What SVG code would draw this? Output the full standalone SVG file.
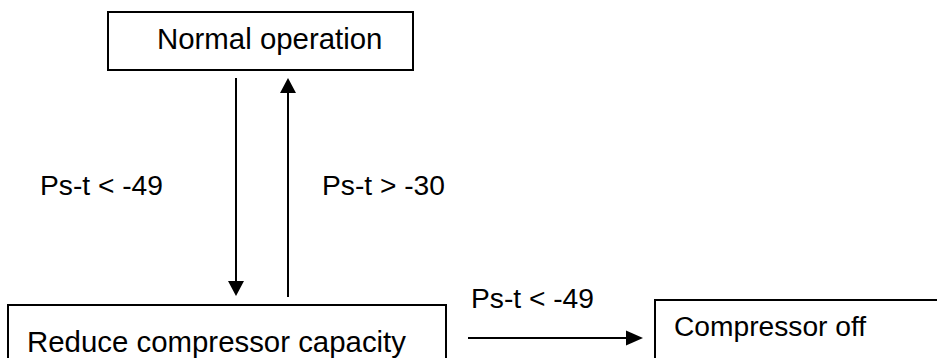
<svg xmlns="http://www.w3.org/2000/svg" width="937" height="358" viewBox="0 0 937 358">
<style>
.box{fill:none;stroke:#000;stroke-width:2}
.ln{stroke:#000;stroke-width:2;fill:none}
.hd{fill:#000}
text{font-family:"Liberation Sans",Arial,sans-serif;fill:#000}
.t{font-size:29.4px}
.l{font-size:28.2px}
</style>
<rect width="937" height="358" fill="#fff"/>
<g id="normal">
<rect class="box" x="108" y="12" width="305" height="58"/>
<text class="t" x="157" y="49">Normal operation</text>
</g>
<g id="reduce">
<path class="box" d="M8,360 V305 H446 V360"/>
<text class="t" x="27" y="352">Reduce compressor capacity</text>
</g>
<g id="off">
<path class="box" d="M655,360 V300 H940"/>
<text class="l" x="674" y="336">Compressor off</text>
</g>
<g id="connectors">
<line class="ln" x1="236" y1="78" x2="236" y2="282"/>
<polygon class="hd" points="228,281 244,281 236,296"/>
<line class="ln" x1="288" y1="297" x2="288" y2="92"/>
<polygon class="hd" points="280,93 296,93 288,78"/>
<line class="ln" x1="468" y1="338" x2="627" y2="338"/>
<polygon class="hd" points="626,330.5 626,345.5 643,338"/>
<text class="l" x="40" y="195">Ps-t &lt; -49</text>
<text class="l" x="322" y="195">Ps-t &gt; -30</text>
<text class="l" x="471" y="308">Ps-t &lt; -49</text>
</g>
</svg>
